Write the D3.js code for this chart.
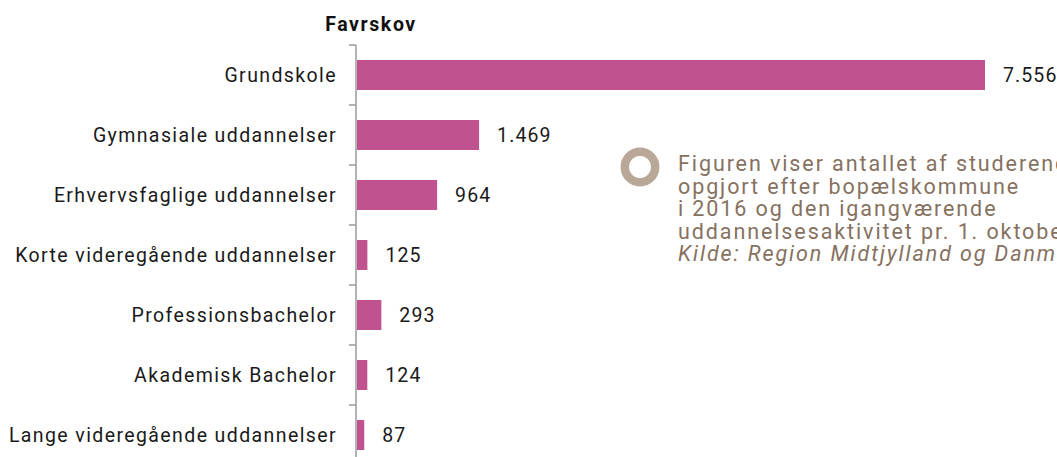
<!DOCTYPE html>
<html>
<head>
<meta charset="utf-8">
<script src="https://cdn.jsdelivr.net/npm/d3@7"></script>
<style>
    body { margin: 0; background: #fff; }
    svg { display: block; }
</style>
</head>
<body>
<div id="chart"></div>
<script>
const title = "Favrskov";
const categories = [
    "Grundskole",
    "Gymnasiale uddannelser",
    "Erhvervsfaglige uddannelser",
    "Korte videregående uddannelser",
    "Professionsbachelor",
    "Akademisk Bachelor",
    "Lange videregående uddannelser"
];
const values = [7556, 1469, 964, 125, 293, 124, 87];
const noteLines = [
    "Figuren viser antallet af studerende",
    "opgjort efter bopælskommune",
    "i 2016 og den igangværende",
    "uddannelsesaktivitet pr. 1. oktober 2016."
];
const sourceLine = "Kilde: Region Midtjylland og Danmarks Statistik";

const size = {
    width: 1057,
    height: 457,
    margin: { top: 45, left: 357 },
    band: 60
};

const daLocale = d3.formatLocale({ decimal: ",", thousands: ".", grouping: [3], currency: ["", " kr."] });
const fmt = daLocale.format(",d");

const svg = d3.select("#chart").append("svg")
    .attr("width", size.width)
    .attr("height", size.height);

const x = d3.scaleLinear()
    .domain([0, 7556])
    .range([size.margin.left, 985]);

const y = d3.scaleBand()
    .domain(categories)
    .range([size.margin.top, size.margin.top + size.band * categories.length])
    .paddingInner(0.5)
    .paddingOuter(0.25);

// axis, ticks sit between the bands
const axisG = svg.append("g").attr("transform", `translate(${size.margin.left - 1},0)`);
axisG.append("line")
    .attr("y1", size.margin.top).attr("y2", size.margin.top + size.band * categories.length)
    .attr("stroke", "#9a9a9a").attr("stroke-width", 1.5);
const edges = d3.range(categories.length + 1).map(i => size.margin.top + i * size.band);
axisG.selectAll("line.tick").data(edges).enter().append("line")
    .attr("class", "tick")
    .attr("x1", -7).attr("x2", 0)
    .attr("y1", d => d).attr("y2", d => d)
    .attr("stroke", "#9a9a9a").attr("stroke-width", 1.5);

svg.append("text")
    .attr("x", 371).attr("y", 31)
    .attr("text-anchor", "middle")
    .attr("font-family", "Roboto, sans-serif")
    .attr("font-weight", "bold")
    .attr("font-size", 19.5)
    .attr("letter-spacing", 1.6)
    .attr("fill", "#111")
    .text(title);

svg.selectAll("rect.bar").data(values).enter().append("rect")
    .attr("class", "bar")
    .attr("x", x(0))
    .attr("y", (d, i) => y(categories[i]))
    .attr("width", d => x(d) - x(0))
    .attr("height", y.bandwidth())
    .attr("fill", "#c0538f");

svg.selectAll("text.cat").data(categories).enter().append("text")
    .attr("class", "cat")
    .attr("x", size.margin.left - 20)
    .attr("y", d => y(d) + y.bandwidth() / 2)
    .attr("dy", "0.36em")
    .attr("text-anchor", "end")
    .attr("font-family", "Roboto, sans-serif")
    .attr("font-size", 19.5)
    .attr("letter-spacing", 1.4)
    .attr("fill", "#1a1a1a")
    .text(d => d);

svg.selectAll("text.val").data(values).enter().append("text")
    .attr("class", "val")
    .attr("x", d => x(d) + 18)
    .attr("y", (d, i) => y(categories[i]) + y.bandwidth() / 2)
    .attr("dy", "0.38em")
    .attr("font-family", "Roboto, sans-serif")
    .attr("font-size", 19.5)
    .attr("letter-spacing", 1.1)
    .attr("fill", "#1a1a1a")
    .text(d => fmt(d));

// note
svg.append("circle")
    .attr("cx", 640).attr("cy", 167).attr("r", 15.2)
    .attr("fill", "none").attr("stroke", "#b9a898").attr("stroke-width", 8.5);

const note = svg.append("text")
    .attr("font-family", "Roboto, sans-serif")
    .attr("font-size", 21.5)
    .attr("letter-spacing", 1.9)
    .attr("fill", "#86715f");
noteLines.forEach((t, i) => {
    note.append("tspan").attr("x", 678).attr("y", 171 + i * 22.5).text(t);
});
note.append("tspan").attr("x", 678).attr("y", 171 + noteLines.length * 22.5)
    .attr("font-style", "italic").text(sourceLine);
</script>
</body>
</html>
